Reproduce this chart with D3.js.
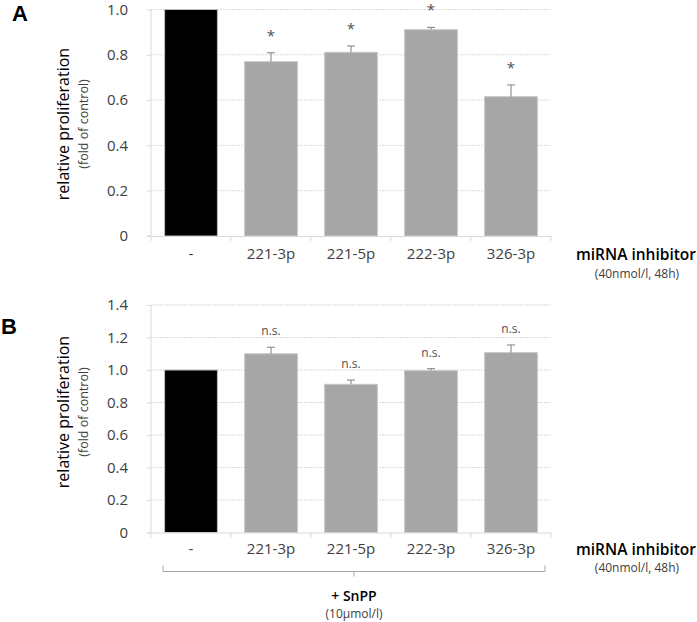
<!DOCTYPE html>
<html>
<head>
<meta charset="utf-8">
<script src="https://cdn.jsdelivr.net/npm/d3@7"></script>
<style>
  html, body { margin: 0; padding: 0; background: #fff; }
  svg { display: block; }
  text { font-family: "Open Sans", "Liberation Sans", sans-serif; }
</style>
</head>
<body>
<svg id="chart" width="697" height="622"></svg>
<script>
// ---- data ----
const categories = ["-", "221-3p", "221-5p", "222-3p", "326-3p"];
const valuesA = [1.0, 0.77, 0.811, 0.911, 0.615];
const errorsA = [0, 0.039, 0.028, 0.010, 0.052];
const marksA = ["", "*", "*", "*", "*"];
const ticksA = [0, 0.2, 0.4, 0.6, 0.8, 1.0];
const tickLabelsA = ["0", "0.2", "0.4", "0.6", "0.8", "1.0"];

const valuesB = [1.0, 1.10, 0.912, 0.996, 1.107];
const errorsB = [0, 0.040, 0.026, 0.012, 0.047];
const marksB = ["", "n.s.", "n.s.", "n.s.", "n.s."];
const ticksB = [0, 0.2, 0.4, 0.6, 0.8, 1.0, 1.2, 1.4];
const tickLabelsB = ["0", "0.2", "0.4", "0.6", "0.8", "1.0", "1.2", "1.4"];

const barColors = ["#000000", "#a6a6a6", "#a6a6a6", "#a6a6a6", "#a6a6a6"];

const svg = d3.select("#chart");
const left = 151, right = 551;

function panel(cfg) {
  const g = svg.append("g");
  const x = d3.scaleBand().domain(categories).range([left, right])
    .paddingInner(0.34).paddingOuter(0.17);
  const y = d3.scaleLinear().domain([0, cfg.max]).range([cfg.bottom, cfg.top]);

  // gridlines
  g.selectAll("line.grid").data(cfg.ticks.filter(t => t > 0)).join("line")
    .attr("x1", left).attr("x2", right)
    .attr("y1", d => y(d)).attr("y2", d => y(d))
    .attr("stroke", "#d9d9d9").attr("stroke-width", 1)
    .attr("stroke-dasharray", "2,1");

  // y axis
  const yAxis = d3.axisLeft(y).tickValues(cfg.ticks)
    .tickFormat((d, i) => cfg.tickLabels[i]).tickSize(4).tickPadding(19);
  const ya = g.append("g").attr("transform", `translate(${left},0)`).call(yAxis);
  ya.select(".domain").attr("stroke", "#d9d9d9").attr("d", `M-4,${cfg.bottom}H0V${cfg.top}`);
  ya.selectAll(".tick line").attr("stroke", "#d9d9d9");
  ya.selectAll(".tick text").attr("fill", "#404040").style("font-size", "15px")
    .style("font-family", "'Open Sans', sans-serif");

  // bars
  g.selectAll("rect.bar").data(categories).join("rect")
    .attr("x", d => x(d)).attr("width", x.bandwidth())
    .attr("y", (d, i) => y(cfg.values[i]))
    .attr("height", (d, i) => y(0) - y(cfg.values[i]))
    .attr("fill", (d, i) => barColors[i])
    .attr("stroke", (d, i) => i === 0 ? "#bfbfbf" : "#c8c8c8").attr("stroke-width", 1);

  // x axis line + ticks
  const xa = d3.axisBottom(x).tickSize(0).tickPadding(cfg.xPad);
  const xg = g.append("g").attr("transform", `translate(0,${cfg.bottom})`).call(xa);
  xg.select(".domain").attr("stroke", "#d9d9d9");
  xg.selectAll(".tick text").attr("fill", "#404040").style("font-size", "15px")
    .style("font-family", "'Open Sans', sans-serif");
  const bounds = categories.map((c, i) => left + i * x.step()).concat([right]);
  g.selectAll("line.xt").data(bounds).join("line")
    .attr("x1", d => d).attr("x2", d => d)
    .attr("y1", cfg.bottom).attr("y2", cfg.bottom + 5)
    .attr("stroke", "#d9d9d9");

  // error bars
  const eb = categories.map((c, i) => ({c, v: cfg.values[i], e: cfg.errors[i], m: cfg.marks[i]}))
    .filter(d => d.e > 0);
  g.selectAll("line.eb").data(eb).join("line")
    .attr("x1", d => x(d.c) + x.bandwidth() / 2).attr("x2", d => x(d.c) + x.bandwidth() / 2)
    .attr("y1", d => y(d.v)).attr("y2", d => y(d.v + d.e))
    .attr("stroke", "#7f7f7f").attr("stroke-width", 1);
  g.selectAll("line.cap").data(eb).join("line")
    .attr("x1", d => x(d.c) + x.bandwidth() / 2 - 4).attr("x2", d => x(d.c) + x.bandwidth() / 2 + 4)
    .attr("y1", d => y(d.v + d.e)).attr("y2", d => y(d.v + d.e))
    .attr("stroke", "#7f7f7f").attr("stroke-width", 1);

  // significance marks
  g.selectAll("text.mark").data(eb).join("text")
    .attr("x", d => x(d.c) + x.bandwidth() / 2)
    .attr("y", d => y(d.v + d.e) - cfg.markOffset)
    .attr("text-anchor", "middle")
    .attr("fill", "#505050")
    .style("font-size", cfg.markSize + "px")
    .text(d => d.m);

  // y title
  const ty = cfg.titleY;
  g.append("text").attr("transform", `translate(69,${ty}) rotate(-90)`)
    .attr("text-anchor", "middle").attr("fill", "#000")
    .style("font-size", "16px").text("relative proliferation");
  g.append("text").attr("transform", `translate(88,${ty}) rotate(-90)`)
    .attr("text-anchor", "middle").attr("fill", "#404040")
    .style("font-size", "12.5px").text("(fold of control)");

  // right label
  g.append("text").attr("x", 636).attr("y", cfg.bottom + cfg.lab1)
    .attr("text-anchor", "middle").attr("fill", "#000")
    .style("font-size", "15.5px").style("font-weight", "600").text("miRNA inhibitor");
  g.append("text").attr("x", 637).attr("y", cfg.bottom + cfg.lab2)
    .attr("text-anchor", "middle").attr("fill", "#404040")
    .style("font-size", "12px").text("(40nmol/l, 48h)");

  // panel letter
  g.append("text").attr("x", cfg.letterX).attr("y", cfg.letterY)
    .attr("fill", "#000").style("font-size", "22px").style("font-weight", "700")
    .style("font-family", "'Liberation Sans', Arial, sans-serif")
    .text(cfg.letter);
  return {x, y};
}

panel({values: valuesA, errors: errorsA, marks: marksA, ticks: ticksA, tickLabels: tickLabelsA,
  max: 1.0, top: 9.5, bottom: 236, markOffset: 12, markSize: 15, titleY: 124,
  xPad: 12, lab1: 24, lab2: 41.5,
  letter: "A", letterX: 12, letterY: 21});

panel({values: valuesB, errors: errorsB, marks: marksB, ticks: ticksB, tickLabels: tickLabelsB,
  max: 1.4, top: 305, bottom: 532.5, markOffset: 12, markSize: 12, titleY: 412,
  xPad: 10.5, lab1: 22, lab2: 39.5,
  letter: "B", letterX: 1, letterY: 334});

// bracket for + SnPP
const bx1 = 163, bx2 = 545, by = 571.5, bmid = (bx1 + bx2) / 2;
svg.append("path")
  .attr("d", `M${bx1},${by - 6}V${by}H${bx2}V${by - 6}M${bmid},${by}V${by + 5}`)
  .attr("fill", "none").attr("stroke", "#a6a6a6").attr("stroke-width", 1);
svg.append("text").attr("x", bmid).attr("y", 600.5).attr("text-anchor", "middle")
  .attr("fill", "#000").style("font-size", "14px").style("font-weight", "600").text("+ SnPP");
svg.append("text").attr("x", bmid).attr("y", 618).attr("text-anchor", "middle")
  .attr("fill", "#404040").style("font-size", "12px").text("(10µmol/l)");
</script>
</body>
</html>
